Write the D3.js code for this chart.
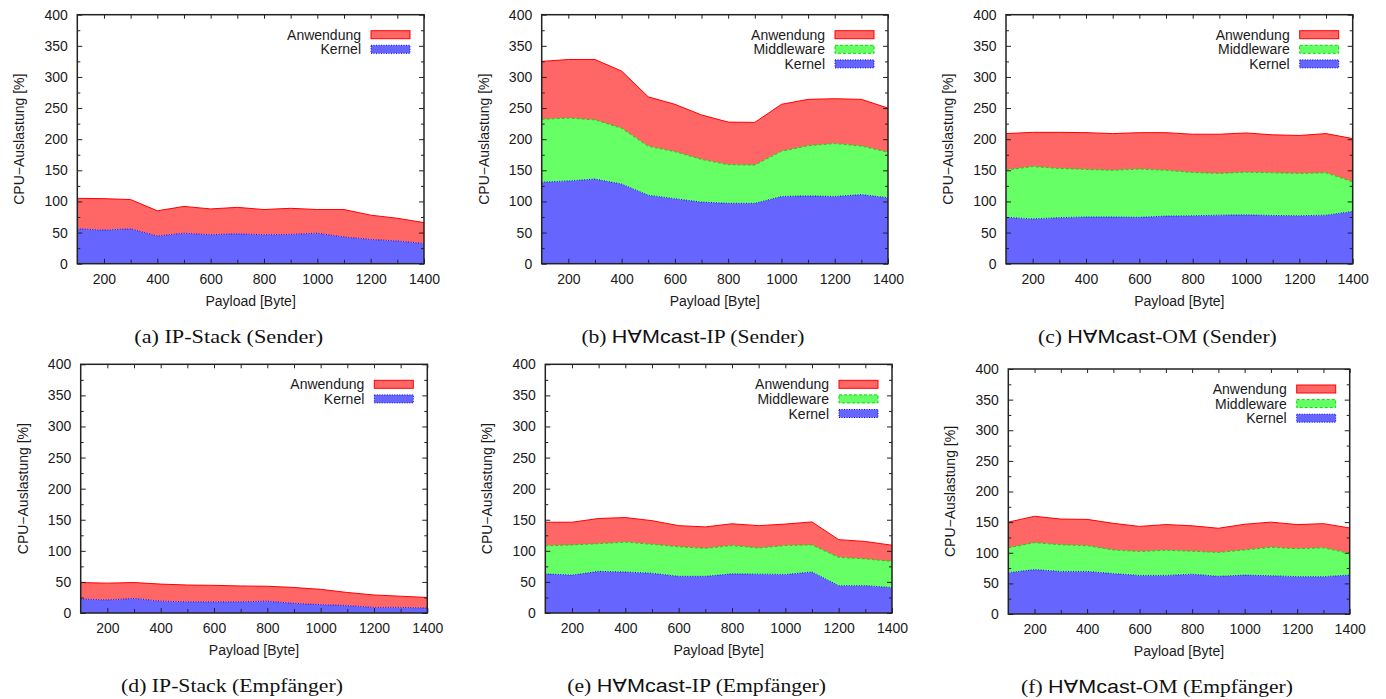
<!DOCTYPE html>
<html>
<head>
<meta charset="utf-8">
<script src="https://cdn.jsdelivr.net/npm/d3@7"></script>
<style>
  body{margin:0;background:#fff;}
  svg{display:block;}
  .axisGraph text{font-family:"Liberation Sans",Arial,sans-serif;font-size:14px;fill:#1a1a1a;}
  .axisGraph line{stroke:#222;stroke-width:1;}
  .labelGraph{font-family:"Liberation Sans",Arial,sans-serif;font-size:14px;fill:#1a1a1a;}
  .legendText{font-family:"Liberation Sans",Arial,sans-serif;font-size:14px;fill:#1a1a1a;}
  .caption{font-size:18px;fill:#111;white-space:pre;}
</style>
</head>
<body>
<svg id="fig" width="1386" height="699"></svg>
<script>

/************************************************************************************************************/
// data (CPU load in %, per layer)

var payload = [100, 200, 300, 400, 500, 600, 700, 800, 900, 1000, 1100, 1200, 1300, 1400];
var yTicks = [0, 50, 100, 150, 200, 250, 300, 350, 400];
var xTicks = [200, 400, 600, 800, 1000, 1200, 1400];

// (a) IP-Stack (Sender)
var ipSendKernel = [56, 54, 56, 44.5, 49, 46.5, 48, 46.5, 47, 49, 43, 39, 36.5, 32.5];
var ipSendApp    = [49, 50.5, 47, 40.5, 43, 41.5, 42.5, 40.5, 42, 38, 44, 39, 36.5, 33.5];

// (b) HAMcast-IP (Sender)
var hmIpSendKernel = [131, 133, 136, 128, 110, 104.5, 99, 97, 97, 108, 109, 108, 111, 106];
var hmIpSendMw     = [101, 101, 95, 89.5, 78.5, 75.5, 68.5, 62, 61.5, 72.5, 80.5, 85, 78, 73];
var hmIpSendApp    = [93, 94, 97, 92, 79.5, 76, 71.5, 68.5, 68.5, 75.5, 74.5, 72, 75, 71];

// (c) HAMcast-OM (Sender)
var hmOmSendKernel = [74.5, 72, 74, 75, 75, 74.5, 76.5, 77, 78, 78.5, 77.5, 77, 78, 84];
var hmOmSendMw     = [76, 84, 79, 76.5, 75, 77.5, 73.5, 69.5, 67, 68.5, 68.5, 68, 68, 47.5];
var hmOmSendApp    = [58.5, 55, 58, 59, 59, 58.5, 60.5, 61.5, 63, 63, 61, 61, 63, 69.5];

// (d) IP-Stack (Empfaenger)
var ipRecvKernel = [22.5, 21, 23.5, 19, 18, 18, 18, 19, 15.5, 13.5, 12, 9, 9, 8];
var ipRecvApp    = [26.5, 27, 25.5, 27.5, 27, 26.5, 25.5, 24, 25.5, 24.5, 21, 20, 18, 17];

// (e) HAMcast-IP (Empfaenger)
var hmIpRecvKernel = [63, 61, 67, 66, 64, 59, 59, 63, 62.5, 62, 66, 44, 44, 41];
var hmIpRecvMw     = [45, 48.5, 44.5, 48, 46.5, 47.5, 45, 45.5, 42, 46.5, 43.5, 45.5, 43, 42];
var hmIpRecvApp    = [38, 36.5, 40.5, 39.5, 38, 34, 34.5, 35, 36, 34.5, 37, 28.5, 28, 26];

// (f) HAMcast-OM (Empfaenger)
var hmOmRecvKernel = [67.5, 72.5, 69.5, 69.5, 66, 63, 63, 65, 61.5, 63.5, 62.5, 61, 61, 63.5];
var hmOmRecvMw     = [40.5, 44, 43.5, 42, 38.5, 39, 41, 37.5, 39, 41, 46.5, 45.5, 47, 35.5];
var hmOmRecvApp    = [42, 43, 42, 43, 43.5, 41, 42, 41.5, 39.5, 42, 41, 39.5, 39.5, 41.5];

/************************************************************************************************************/
// styles and layout

var layerStyle = {
  Kernel:     {fill: "#6666ff", stroke: "#0000ff", dash: "1,1.5"},
  Middleware: {fill: "#66ff66", stroke: "#00dd00", dash: "3,2"},
  Anwendung:  {fill: "#ff6666", stroke: "#ff0000", dash: null}
};

var SERIF = "'Liberation Serif','Times New Roman',serif";
var SANS = "'Liberation Sans','DejaVu Sans',Arial,sans-serif";

var panels = [
  {left: 77.3, right: 424, top: 14.7, bottom: 263.7, capWidth: 189,
    caption: [["(a) IP-Stack (Sender)", SERIF]],
    series: [["Kernel", ipSendKernel], ["Anwendung", ipSendApp]]},
  {left: 541.7, right: 888, top: 14.7, bottom: 263.7, capWidth: 223,
    caption: [["(b) ", SERIF], ["H\u2200Mcast", SANS], ["-IP (Sender)", SERIF]],
    series: [["Kernel", hmIpSendKernel], ["Middleware", hmIpSendMw], ["Anwendung", hmIpSendApp]]},
  {left: 1006, right: 1352.7, top: 14.7, bottom: 263.7, capWidth: 239,
    caption: [["(c) ", SERIF], ["H\u2200Mcast", SANS], ["-OM (Sender)", SERIF]],
    series: [["Kernel", hmOmSendKernel], ["Middleware", hmOmSendMw], ["Anwendung", hmOmSendApp]]},
  {left: 80.7, right: 427.3, top: 364.3, bottom: 613, capWidth: 222,
    caption: [["(d) IP-Stack (Empf\u00e4nger)", SERIF]],
    series: [["Kernel", ipRecvKernel], ["Anwendung", ipRecvApp]]},
  {left: 545.3, right: 892, top: 364.3, bottom: 613, capWidth: 259,
    caption: [["(e) ", SERIF], ["H\u2200Mcast", SANS], ["-IP (Empf\u00e4nger)", SERIF]],
    series: [["Kernel", hmIpRecvKernel], ["Middleware", hmIpRecvMw], ["Anwendung", hmIpRecvApp]]},
  {left: 1008.3, right: 1349.7, top: 369, bottom: 614, capWidth: 272,
    caption: [["(f) ", SERIF], ["H\u2200Mcast", SANS], ["-OM (Empf\u00e4nger)", SERIF]],
    series: [["Kernel", hmOmRecvKernel], ["Middleware", hmOmRecvMw], ["Anwendung", hmOmRecvApp]]}
];

/************************************************************************************************************/

function drawAxes(g, p, x, y){

  var minorY = d3.range(25, 400, 50);
  var minorX = d3.range(300, 1400, 200);

  // left / bottom with labels, ticks pointing inward
  g.append("g").attr("class", "axisGraph").attr("transform", "translate(" + [p.left, 0] + ")")
    .call(d3.axisLeft(y).tickValues(yTicks).tickSizeInner(-5).tickSizeOuter(0).tickPadding(9.5));
  g.append("g").attr("class", "axisGraph").attr("transform", "translate(" + [0, p.bottom] + ")")
    .call(d3.axisBottom(x).tickValues(xTicks).tickFormat(d3.format("d")).tickSizeInner(-5).tickSizeOuter(0).tickPadding(10));

  // minor ticks + mirrored ticks
  g.append("g").attr("class", "axisGraph").attr("transform", "translate(" + [p.left, 0] + ")")
    .call(d3.axisLeft(y).tickValues(minorY).tickFormat("").tickSizeInner(-3).tickSizeOuter(0));
  g.append("g").attr("class", "axisGraph").attr("transform", "translate(" + [p.right, 0] + ")")
    .call(d3.axisRight(y).tickValues(yTicks).tickFormat("").tickSizeInner(-5).tickSizeOuter(0));
  g.append("g").attr("class", "axisGraph").attr("transform", "translate(" + [p.right, 0] + ")")
    .call(d3.axisRight(y).tickValues(minorY).tickFormat("").tickSizeInner(-3).tickSizeOuter(0));
  g.append("g").attr("class", "axisGraph").attr("transform", "translate(" + [0, p.top] + ")")
    .call(d3.axisTop(x).tickValues(xTicks.concat(minorX)).tickFormat("").tickSizeInner(-4).tickSizeOuter(0));
  g.append("g").attr("class", "axisGraph").attr("transform", "translate(" + [0, p.bottom] + ")")
    .call(d3.axisBottom(x).tickValues(minorX).tickFormat("").tickSizeInner(-4).tickSizeOuter(0));

  g.selectAll(".axisGraph .domain").remove();

  // frame
  g.append("rect")
    .attr("x", p.left).attr("y", p.top)
    .attr("width", p.right - p.left).attr("height", p.bottom - p.top)
    .attr("fill", "none").attr("stroke", "#222").attr("stroke-width", 1.5);

  //Label of the axes
  g.append("text").attr("class", "labelGraph")
    .attr("text-anchor", "middle")
    .attr("x", (p.left + p.right) / 2)
    .attr("y", p.bottom + 42)
    .text("Payload [Byte]");

  g.append("text").attr("class", "labelGraph")
    .attr("text-anchor", "middle")
    .attr("transform", "translate(" + [p.left - 53, (p.top + p.bottom) / 2] + ") rotate(-90)")
    .text("CPU\u2212Auslastung [%]");
}

/************************************************************************************************************/

function drawLegend(g, p){

  var items = p.series.map(function(s){ return s[0]; }).reverse();

  items.forEach(function(key, i){
    var cy = p.top + 20 + i * 14.6, st = layerStyle[key];

    g.append("text").attr("class", "legendText")
      .attr("text-anchor", "end")
      .attr("x", p.right - 63)
      .attr("y", cy + 5)
      .text(key);

    g.append("rect")
      .attr("x", p.right - 53).attr("y", cy - 4)
      .attr("width", 39).attr("height", 8)
      .attr("fill", st.fill)
      .attr("stroke", st.stroke)
      .attr("stroke-width", 1)
      .attr("stroke-dasharray", st.dash);
  });
}

/************************************************************************************************************/

function drawCaption(svg, p){

  var cap = svg.append("text").attr("class", "caption")
    .attr("text-anchor", "middle")
    .attr("x", 0).attr("y", 0);

  p.caption.forEach(function(part){
    cap.append("tspan").style("font-family", part[1]).text(part[0]);
  });

  var w = cap.node().getBBox().width;
  var cx = (p.left + p.right) / 2 - 22;
  cap.attr("transform", "translate(" + [cx, p.bottom + 79] + ") scale(" + (p.capWidth / w) + ",1)");
}

/************************************************************************************************************/

function drawPanel(svg, p){

  var g = svg.append("g");

  var x = d3.scaleLinear().domain([100, 1400]).range([p.left, p.right]);
  var y = d3.scaleLinear().domain([0, 400]).range([p.bottom, p.top]);

  var keys = p.series.map(function(s){ return s[0]; });
  var rows = payload.map(function(v, i){
    var r = {payload: v};
    p.series.forEach(function(s){ r[s[0]] = s[1][i]; });
    return r;
  });

  var stacked = d3.stack().keys(keys)(rows);

  var area = d3.area()
    .x(function(d){ return x(d.data.payload); })
    .y0(function(d){ return y(d[0]); })
    .y1(function(d){ return y(d[1]); });

  var topLine = d3.line()
    .x(function(d){ return x(d.data.payload); })
    .y(function(d){ return y(d[1]); });

  g.selectAll(".layer").data(stacked).enter().append("path")
    .attr("class", "layer")
    .attr("d", area)
    .attr("fill", function(d){ return layerStyle[d.key].fill; });

  g.selectAll(".edge").data(stacked).enter().append("path")
    .attr("class", "edge")
    .attr("d", topLine)
    .attr("fill", "none")
    .attr("stroke", function(d){ return layerStyle[d.key].stroke; })
    .attr("stroke-width", 1)
    .attr("stroke-dasharray", function(d){ return layerStyle[d.key].dash; });

  drawAxes(g, p, x, y);
  drawLegend(g, p);
  drawCaption(svg, p);
}

var svg = d3.select("#fig");
panels.forEach(function(p){ drawPanel(svg, p); });

</script>
</body>
</html>
